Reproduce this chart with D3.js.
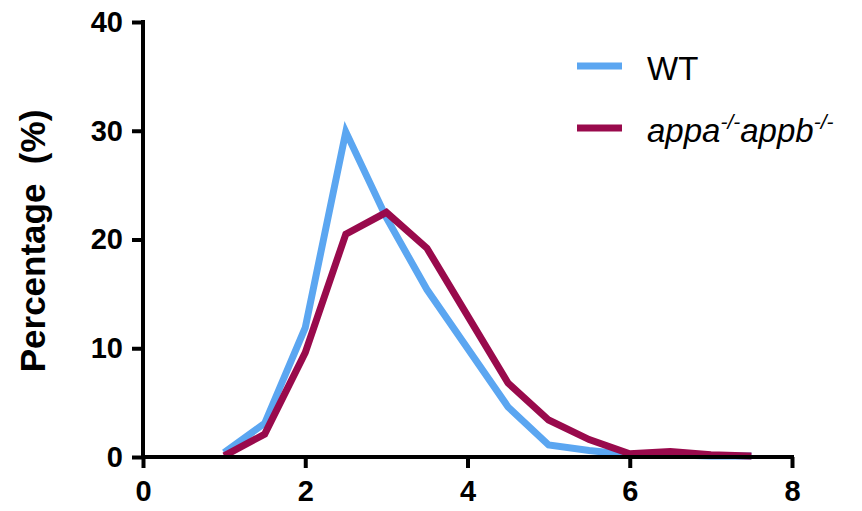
<!DOCTYPE html>
<html>
<head>
    <meta charset='utf-8'>
    <style>
        body { margin: 0; background: #fff; }
        svg { font-family: 'Liberation Sans', Arial, sans-serif; }
    </style>
    <script src='https://d3js.org/d3.v7.min.js'></script>
</head>
<body>
    <script>
        const WIDTH = 862;
        const HEIGHT = 511;

        var xValues = [1, 1.5, 2, 2.5, 3, 3.5, 4, 4.5, 5, 5.5, 6, 6.5, 7, 7.5];
        var wtValues = [0.4, 3.1, 11.9, 29.9, 22.0, 15.4, 10.0, 4.6, 1.1, 0.6, 0.2, 0.2, 0.1, 0.1];
        var mutValues = [0.1, 2.1, 9.6, 20.5, 22.5, 19.2, 13.0, 6.8, 3.4, 1.6, 0.3, 0.5, 0.2, 0.1];
        var xTicks = [0, 2, 4, 6, 8];
        var yTicks = [0, 10, 20, 30, 40];

        var series = [
            { name: 'WT', values: wtValues, color: '#5ba6f1' },
            { name: 'mut', values: mutValues, color: '#990a4c' }
        ];

        var svg = d3.select('body').append('svg')
            .attr('width', WIDTH)
            .attr('height', HEIGHT);

        var x = d3.scaleLinear().domain([0, 8]).range([143, 792]);
        var y = d3.scaleLinear().domain([0, 40]).range([457, 22]);

        // lines first, axes drawn on top
        var line = d3.line()
            .x(function (d, i) { return x(xValues[i]); })
            .y(function (d) { return y(d); });

        svg.selectAll('path.series')
            .data(series)
            .enter()
            .append('path')
            .attr('class', 'series')
            .attr('d', function (d) { return line(d.values); })
            .attr('fill', 'none')
            .attr('stroke', function (d) { return d.color; })
            .attr('stroke-width', 7)
            .attr('stroke-linejoin', 'miter');

        var xAxis = svg.append('g')
            .attr('transform', 'translate(0,' + y(0) + ')')
            .call(d3.axisBottom(x).tickValues(xTicks).tickSize(11).tickPadding(12).tickFormat(d3.format('d')));

        var yAxis = svg.append('g')
            .attr('transform', 'translate(' + x(0) + ',0)')
            .call(d3.axisLeft(y).tickValues(yTicks).tickSize(11).tickPadding(9).tickFormat(d3.format('d')));

        [xAxis, yAxis].forEach(function (g) {
            g.select('.domain').attr('stroke', '#000').attr('stroke-width', 4).attr('stroke-linecap', 'square');
            g.selectAll('.tick line').attr('stroke', '#000').attr('stroke-width', 4);
            g.selectAll('.tick text')
                .attr('fill', '#000')
                .attr('font-size', 29)
                .attr('font-weight', 'bold')
                .attr('font-family', "'Liberation Sans', Arial, sans-serif");
        });
        // drop the outer tick stubs d3 puts on the domain path
        xAxis.select('.domain').attr('d', 'M' + x(0) + ',0H' + x(8));
        yAxis.select('.domain').attr('d', 'M0,' + y(40) + 'V' + y(0));

        svg.append('text')
            .attr('transform', 'translate(45,241) rotate(-90)')
            .attr('text-anchor', 'middle')
            .attr('font-size', 35)
            .attr('font-weight', 'bold')
            .attr('xml:space', 'preserve')
            .text('Percentage  (%)');

        // legend
        var legend = svg.append('g');
        legend.selectAll('line')
            .data(series)
            .enter()
            .append('line')
            .attr('x1', 577)
            .attr('x2', 622)
            .attr('y1', function (d, i) { return 66 + i * 62; })
            .attr('y2', function (d, i) { return 66 + i * 62; })
            .attr('stroke', function (d) { return d.color; })
            .attr('stroke-width', 7);

        legend.append('text')
            .attr('x', 647)
            .attr('y', 80)
            .attr('font-size', 33)
            .text('WT');

        var mt = legend.append('text')
            .attr('x', 647)
            .attr('y', 142)
            .attr('font-size', 33)
            .attr('font-style', 'italic');
        mt.append('tspan').text('appa');
        mt.append('tspan').attr('dy', -13).attr('font-size', 21).text('-/-');
        mt.append('tspan').attr('dy', 13).text('appb');
        mt.append('tspan').attr('dy', -13).attr('font-size', 21).text('-/-');
    </script>
</body>
</html>
